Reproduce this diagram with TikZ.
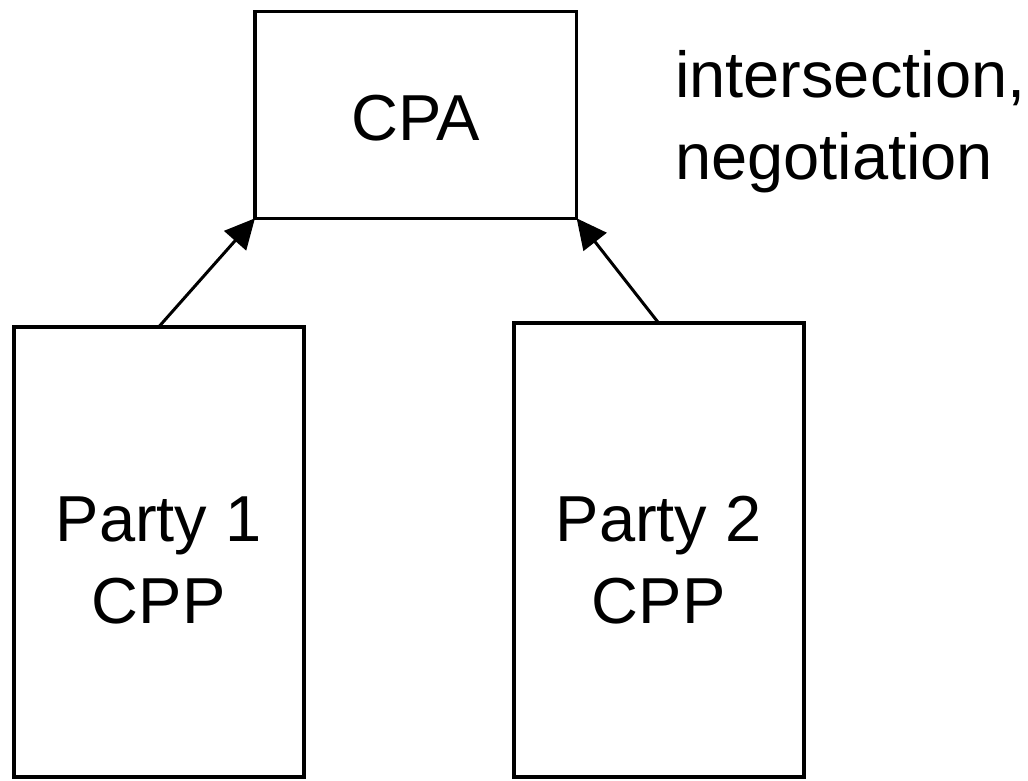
\documentclass[tikz,border=0pt]{standalone}
\usepackage{fontspec}
\setmainfont{Liberation Sans}
\usetikzlibrary{arrows.meta}
\begin{document}
\begin{tikzpicture}[x=1pt, y=-1pt,
  box/.style={draw, rectangle, line width=3.3pt, inner sep=0pt, outer sep=0pt},
  partybox/.style={box, line width=4pt},
  lbl/.style={inner sep=0pt, outer sep=0pt, font=\fontsize{65}{82}\selectfont, align=center},
  note/.style={lbl, align=left, anchor=west},
  link/.style={line width=3pt, -{Triangle[length=30pt, width=29pt]}}]
\useasboundingbox (0,0) rectangle (1028,780);

% boxes
\node[box, minimum width=321.7pt, minimum height=206.6pt] (cpa) at (415.8,115) {};
\node[partybox, minimum width=290pt, minimum height=450.5pt] (p1) at (158.7,552.2) {};
\node[partybox, minimum width=289.8pt, minimum height=454.5pt] (p2) at (658.6,550.2) {};

% labels
\node[lbl] (cpat) at (415.8,118.5) {CPA};
\node[lbl] (p1t) at (158.7,560.7) {Party 1\\CPP};
\node[lbl] (p2t) at (658.6,559.7) {Party 2\\CPP};
\node[note] (rule) at (675,121.6) {intersection,\\negotiation};

% connectors
\draw[link] (p1.north) -- (cpa.south west);
\draw[link] (p2.north) -- (cpa.south east);
\end{tikzpicture}
\end{document}
